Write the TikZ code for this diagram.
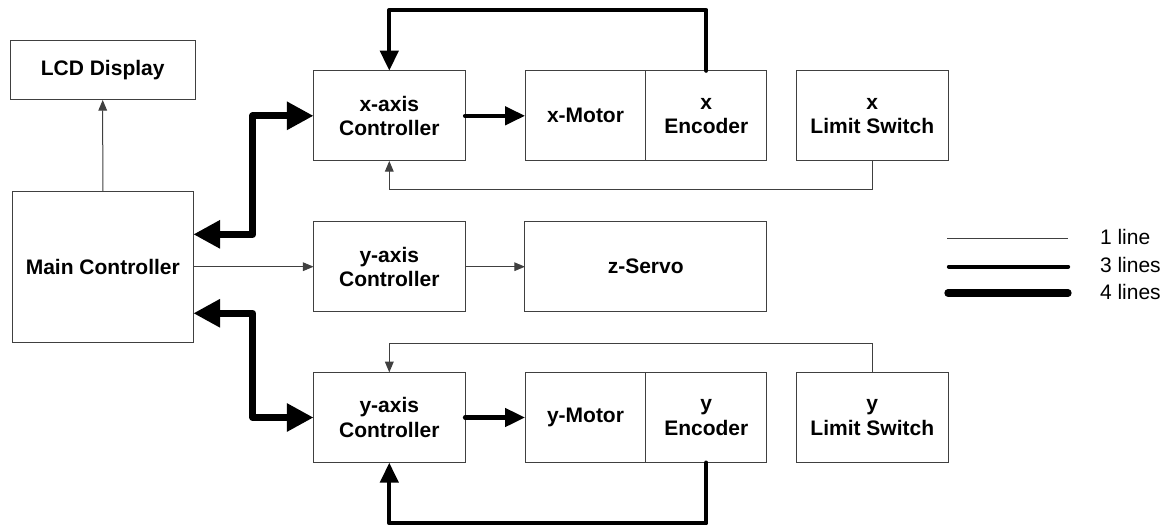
\documentclass[tikz,border=0pt]{standalone}
\usepackage{fontspec}
\setmainfont{Liberation Sans}
\usetikzlibrary{arrows.meta}

\begin{document}
\begin{tikzpicture}[x=0.75pt,y=-0.75pt,
  every node/.style={draw=black!75, line width=0.75pt, inner sep=0pt, outer sep=0pt, align=center, font=\bfseries\fontsize{15.75}{18.2}\selectfont},
  ctrlbox/.style={minimum width=113.6pt, minimum height=67.7pt},
  unitbox/.style={minimum width=90.6pt, minimum height=67.7pt},
  legend/.style={draw=none, anchor=west, font=\fontsize{15.75}{18.2}\selectfont},
  one/.style={draw=black!75, line width=0.75pt, -{Triangle[length=8pt,width=6.5pt]}},
  three/.style={draw=black, line width=3.2pt, line cap=round, line join=round, -{Triangle[length=15pt,width=13.5pt]}},
  four/.style={draw=black, line width=5.25pt, line join=round, {Triangle[length=20pt,width=20pt]}-{Triangle[length=20pt,width=20pt]}}]
  \useasboundingbox (0,0) rectangle (1171,526);
  \node[minimum width=138.5pt, minimum height=44.5pt] (lcd) at (102.7,70.3) {LCD Display};
  \node[minimum width=135.8pt, minimum height=113pt] (main) at (102.8,267) {Main Controller};
  \node[ctrlbox] (xctrl) at (389.3,115.8) {x-axis\\Controller};
  \node[unitbox] (xmotor) at (585.5,115.8) {x-Motor};
  \node[unitbox] (xenc) at (706.3,115.8) {x\\Encoder};
  \node[ctrlbox] (xlim) at (872.3,115.8) {x\\Limit Switch};
  \node[ctrlbox] (yctrl) at (389.3,266.7) {y-axis\\Controller};
  \node[minimum width=181.1pt, minimum height=67.7pt] (zservo) at (645.7,266.7) {z-Servo};
  \node[ctrlbox] (ybctrl) at (389.3,417.5) {y-axis\\Controller};
  \node[unitbox] (ymotor) at (585.5,417.5) {y-Motor};
  \node[unitbox] (yenc) at (706.3,417.5) {y\\Encoder};
  \node[ctrlbox] (ylim) at (872.3,417.5) {y\\Limit Switch};
  \draw[one] (main.north) -- (lcd.south);
  \draw[four] ([yshift=24.5pt]main.east) -- ++(59.4,0) |- (xctrl.west);
  \draw[four] ([yshift=-34.7pt]main.east) -- ++(59.4,0) |- (ybctrl.west);
  \draw[one] (main.east |- yctrl) -- (yctrl.west);
  \draw[one] (yctrl) -- (zservo);
  \draw[three] (xctrl) -- (xmotor);
  \draw[three] (ybctrl) -- (ymotor);
  \draw[three] (xenc.north) -- ++(0,-60.7) -| (xctrl.north);
  \draw[three] (yenc.south) -- ++(0,60.6) -| (ybctrl.south);
  \draw[one] (xlim.south) -- ++(0,29) -| (xctrl.south);
  \draw[one] (ylim.north) -- ++(0,-29) -| (ybctrl.north);
  \node[legend] (l1) at (1100,237) {1 line};
  \node[legend] (l3) at (1100,265) {3 lines};
  \node[legend] (l4) at (1100,292) {4 lines};
  \draw[black!75, line width=0.75pt] (947,238.5) -- (1068,238.5);
  \draw[line width=3.3pt, line cap=round] (949,266.7) -- (1068,266.7);
  \draw[line width=5.5pt, line cap=round] (948,293) -- (1068,293);
\end{tikzpicture}
\end{document}
